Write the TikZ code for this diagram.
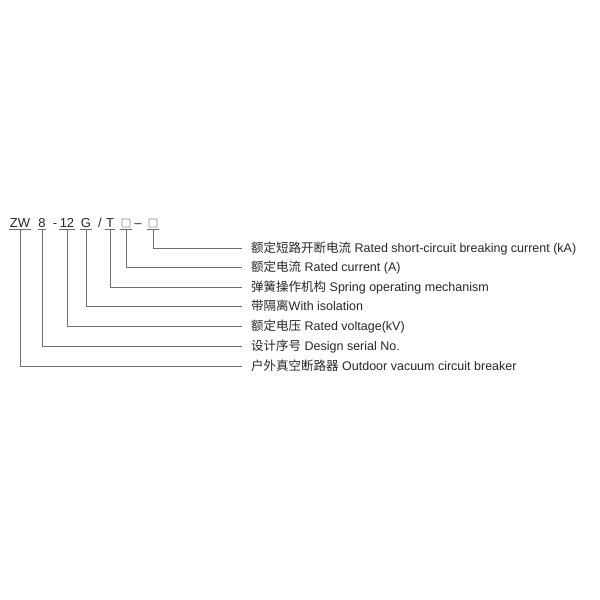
\documentclass[tikz,border=0pt]{standalone}
\usepackage{fontspec}
\setmainfont{Liberation Sans}
\newfontfamily\cjk{Noto Sans CJK SC}
\definecolor{txt}{HTML}{262626}
\definecolor{ln}{HTML}{6E6E6E}
\begin{document}
\begin{tikzpicture}[x=1pt,y=-1pt,
  codepart/.style={font=\fontsize{13}{14}\selectfont, text=txt, anchor=base, inner xsep=0.5pt, inner ysep=2.5pt, text depth=0pt},
  boxpart/.style={codepart, font=\fontsize{10.5}{12}\selectfont\cjk},
  sep/.style={font=\fontsize{13}{14}\selectfont, text=txt, anchor=base, inner sep=0pt},
  lab/.style={font=\fontsize{12.5}{14}\selectfont, text=txt, anchor=west, inner xsep=0pt, inner ysep=0pt, text height=10.5pt, text depth=2pt, xshift=9pt},
  ul/.style={draw=ln, line width=0.7pt},
  conn/.style={draw=ln, line width=0.7pt}]
\useasboundingbox (0,0) rectangle (600,600);
\node[codepart] (zw) at (20,227) {ZW};
\node[codepart] (n8) at (42,227) {8};
\node[sep] (d1) at (55,227) {-};
\node[codepart] (n12) at (67,227) {12};
\node[codepart] (g) at (86,227) {G};
\node[sep] (sl) at (100,227) {/};
\node[codepart] (t) at (110,227) {T};
\node[boxpart] (b1) at (126,227) {□};
\node[sep] (d2) at (138,227) {–};
\node[boxpart] (b2) at (153,227) {□};
\foreach \n in {zw,n8,n12,g,t,b1,b2}
  \draw[ul] (\n.south west) -- (\n.south east);
\coordinate (e1) at (242,248);
\coordinate (e2) at (242,267);
\coordinate (e3) at (242,287);
\coordinate (e4) at (242,306);
\coordinate (e5) at (242,326);
\coordinate (e6) at (242,346);
\coordinate (e7) at (242,366);
\node[lab] (l1) at (e1) {{\cjk 额定短路开断电流} Rated short-circuit breaking current (kA)};
\node[lab] (l2) at (e2) {{\cjk 额定电流} Rated current (A)};
\node[lab] (l3) at (e3) {{\cjk 弹簧操作机构} Spring operating mechanism};
\node[lab] (l4) at (e4) {{\cjk 带隔离}With isolation};
\node[lab] (l5) at (e5) {{\cjk 额定电压} Rated voltage(kV)};
\node[lab] (l6) at (e6) {{\cjk 设计序号} Design serial No.};
\node[lab] (l7) at (e7) {{\cjk 户外真空断路器} Outdoor vacuum circuit breaker};
\draw[conn] (b2.south) |- (e1);
\draw[conn] (b1.south) |- (e2);
\draw[conn] (t.south) |- (e3);
\draw[conn] (g.south) |- (e4);
\draw[conn] (n12.south) |- (e5);
\draw[conn] (n8.south) |- (e6);
\draw[conn] (zw.south) |- (e7);
\end{tikzpicture}
\end{document}
